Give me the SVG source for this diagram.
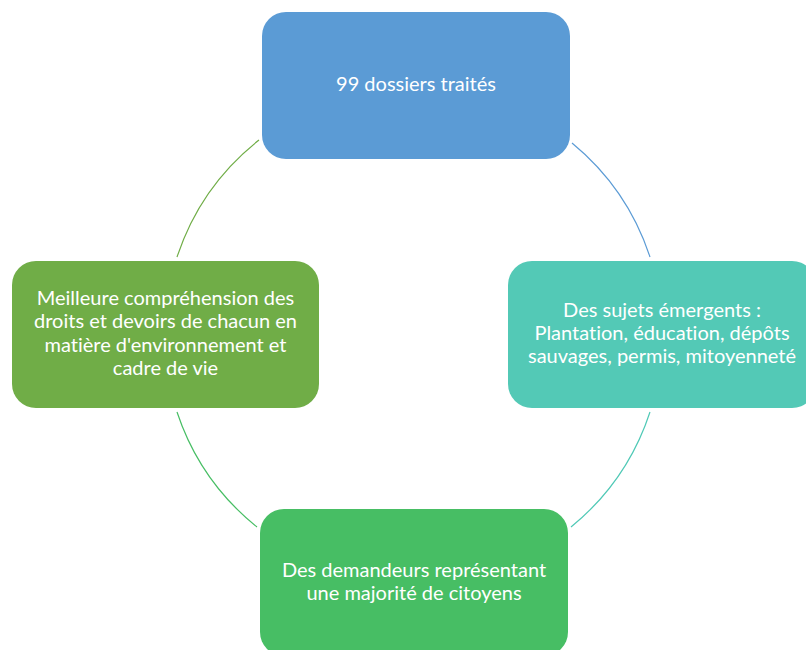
<svg xmlns="http://www.w3.org/2000/svg" width="806" height="650" viewBox="0 0 806 650">
<style>
.lbl{font-family:Lato,"Open Sans","Liberation Sans",sans-serif;font-size:20px;fill:#ffffff;text-anchor:middle;font-variant-ligatures:none;font-feature-settings:"liga" 0,"clig" 0}
.arc{fill:none;stroke-width:1.2}
</style>
<rect width="806" height="650" fill="#ffffff"/>
<g id="connectors">
<path class="arc" stroke="#5B9BD5" d="M572,143 A248,248 0 0 1 650,257"/>
<path class="arc" stroke="#4FC9B6" d="M650,412 A248,248 0 0 1 571,527"/>
<path class="arc" stroke="#47BE64" d="M257,527 A248,248 0 0 1 177,412"/>
<path class="arc" stroke="#70AD47" d="M177,257 A248,248 0 0 1 259,140"/>
</g>
<g id="node-top">
<rect x="262" y="12" width="308" height="147" rx="24" fill="#5B9BD5"/>
<text class="lbl" x="416" y="91">99 dossiers traités</text>
</g>
<g id="node-right">
<rect x="508" y="261" width="308" height="147" rx="24" fill="#53C9B6"/>
<text class="lbl" x="662" y="317">Des sujets émergents :</text>
<text class="lbl" x="662" y="340">Plantation, éducation, dépôts</text>
<text class="lbl" x="662" y="363">sauvages, permis, mitoyenneté</text>
</g>
<g id="node-bottom">
<rect x="260" y="509" width="308" height="147" rx="24" fill="#47BE64"/>
<text class="lbl" x="414" y="577">Des demandeurs représentant</text>
<text class="lbl" x="414" y="600">une majorité de citoyens</text>
</g>
<g id="node-left">
<rect x="12" y="261" width="307" height="147" rx="24" fill="#70AD47"/>
<text class="lbl" x="165.5" y="305">Meilleure compréhension des</text>
<text class="lbl" x="165.5" y="328.3">droits et devoirs de chacun en</text>
<text class="lbl" x="165.5" y="351.6">matière d'environnement et</text>
<text class="lbl" x="165.5" y="375">cadre de vie</text>
</g>
</svg>
